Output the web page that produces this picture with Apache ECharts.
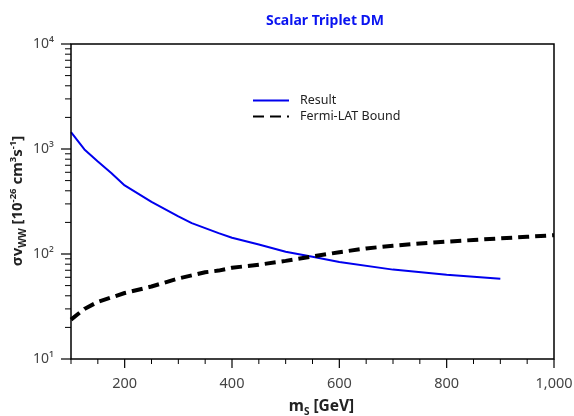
<!DOCTYPE html>
<html>
<head>
<meta charset="utf-8">
<script src="https://cdn.jsdelivr.net/npm/echarts@6/dist/echarts.min.js"></script>
<style>html,body{margin:0;padding:0;background:#fff}#c{width:574px;height:416px}</style>
</head>
<body>
<div id="c"></div>
<script>
const resultMass = [100,125,150,175,200,250,300,325,375,400,450,500,550,600,700,800,900];
const resultSigma = [1450,990,760,590,450,313,228,197,158,143,123,105,94,84,71,63.5,58];
const fermiMass = [100,125,150,200,250,300,350,375,400,450,500,550,600,650,700,750,800,850,900,950,1000];
const fermiSigma = [23.7,30,35,42.5,49,58.5,67,69.5,74,79,86,94.8,104,113,120,126,131,136,141,146,151];
const xMajorTicks = [200,400,600,800,1000];
const xMinorTicks = [100,150,250,300,350,450,500,550,650,700,750,850,900,950];
const xTickLabels = { 200: '200', 400: '400', 600: '600', 800: '800', 1000: '1,000' };
const yMajorTicks = [10,100,1000,10000];
const yMinorTicks = [20,30,40,50,60,70,80,90,200,300,400,500,600,700,800,900,2000,3000,4000,5000,6000,7000,8000,9000];
const yTickLabels = { 10: '10¹', 100: '10²', 1000: '10³', 10000: '10⁴' };
const xRange = [100, 1000];
const yRange = [10, 10000];

const FONT = 'Noto Sans';
const chart = echarts.init(document.getElementById('c'));
const pair = (xs, ys) => xs.map((x, i) => [x, ys[i]]);
function lookupLabel(table, v) {
  try {
    const n = Math.round(Number(v));
    return (table && table[n]) ? table[n] : '';
  } catch (e) { return ''; }
}

function frameAndTicks(params, api) {
  const p0 = api.coord([xRange[0], yRange[0]]);
  const p1 = api.coord([xRange[1], yRange[1]]);
  const left = p0[0], bottom = p0[1], right = p1[0], top = p1[1];
  const children = [{
    type: 'rect', shape: { x: left, y: top, width: right - left, height: bottom - top },
    style: { fill: 'none', stroke: '#000', lineWidth: 1.5 }
  }];
  const tick = (x1, y1, x2, y2, w) => children.push({
    type: 'line', shape: { x1, y1, x2, y2 }, style: { stroke: '#000', lineWidth: w }
  });
  xMajorTicks.forEach(v => { const x = api.coord([v, yRange[0]])[0]; tick(x, bottom, x, bottom + 9, 1.2); });
  xMinorTicks.forEach(v => { const x = api.coord([v, yRange[0]])[0]; tick(x, bottom, x, bottom + 5, 1); });
  yMajorTicks.forEach(v => { const y = api.coord([xRange[0], v])[1]; tick(left, y, left - 10, y, 1.2); });
  yMinorTicks.forEach(v => { const y = api.coord([xRange[0], v])[1]; tick(left, y, left - 6, y, 1); });
  return { type: 'group', children };
}

chart.setOption({
  animation: false,
  title: {
    text: 'Scalar Triplet DM',
    left: 320, top: 9, textAlign: 'center',
    textStyle: { color: '#0a14f0', fontSize: 14, fontWeight: 'bold', fontFamily: FONT }
  },
  legend: {
    orient: 'vertical', left: 247, top: 89, itemWidth: 36, itemHeight: 10, itemGap: 3,
    itemStyle: { opacity: 0 },
    textStyle: { fontSize: 12.5, color: '#222', fontFamily: FONT, padding: [0, 0, 0, 6] },
    data: ['Result', 'Fermi-LAT Bound']
  },
  graphic: [{
    type: 'text', x: 18, y: 201, rotation: Math.PI / 2, silent: true,
    style: {
      text: '{b|σv}{sub|WW}{b| [10}{sup|-26}{b| cm}{sup|3}{b|s}{sup|-1}{b|]}',
      align: 'center', verticalAlign: 'middle',
      rich: {
        b: { fontSize: 15, fontWeight: 'bold', fill: '#222', fontFamily: FONT, verticalAlign: 'middle', lineHeight: 20 },
        sub: { fontSize: 10, fontWeight: 'bold', fill: '#222', fontFamily: FONT, verticalAlign: 'bottom', lineHeight: 12 },
        sup: { fontSize: 9.5, fontWeight: 'bold', fill: '#222', fontFamily: FONT, verticalAlign: 'top', lineHeight: 11 }
      }
    }
  }],
  grid: { left: 71, right: 20, top: 44, bottom: 57, outerBoundsMode: 'none' },
  xAxis: {
    type: 'value', min: xRange[0], max: xRange[1], interval: 50,
    axisLine: { show: false, onZero: false },
    axisTick: { show: false },
    axisLabel: { color: '#444', fontSize: 14.5, fontFamily: FONT, margin: 17,
      formatter: v => lookupLabel(xTickLabels, v) },
    splitLine: { show: false },
    name: '{b|m}{sub|S}{b| [GeV]}', nameLocation: 'middle', nameGap: 38,
    nameTextStyle: { padding: [0, 0, 0, 18],
      rich: { b: { fontSize: 15.5, fontWeight: 'bold', color: '#222', fontFamily: FONT, verticalAlign: 'middle', lineHeight: 20 },
              sub: { fontSize: 10, fontWeight: 'bold', color: '#222', fontFamily: FONT, verticalAlign: 'bottom', lineHeight: 13 } } }
  },
  yAxis: {
    type: 'log', logBase: 10, min: yRange[0], max: yRange[1],
    axisLine: { show: false, onZero: false },
    axisTick: { show: false },
    axisLabel: { color: '#444', fontSize: 14, fontFamily: FONT, margin: 17,
      formatter: v => lookupLabel(yTickLabels, v) },
    splitLine: { show: false }
  },
  series: [
    {
      name: 'Result', type: 'line', data: pair(resultMass, resultSigma),
      showSymbol: false, symbol: 'none', color: '#0000ee',
      lineStyle: { color: '#0000ee', width: 2 }
    },
    {
      name: 'Fermi-LAT Bound', type: 'line', data: pair(fermiMass, fermiSigma),
      showSymbol: false, symbol: 'none', color: '#000',
      lineStyle: { color: '#000', width: 4, type: [11, 6] }
    },
    {
      name: 'axes-frame', type: 'custom', silent: true, clip: false, z: 5,
      data: [[xRange[0], yRange[0]]],
      renderItem: frameAndTicks
    }
  ]
});
</script>
</body>
</html>
